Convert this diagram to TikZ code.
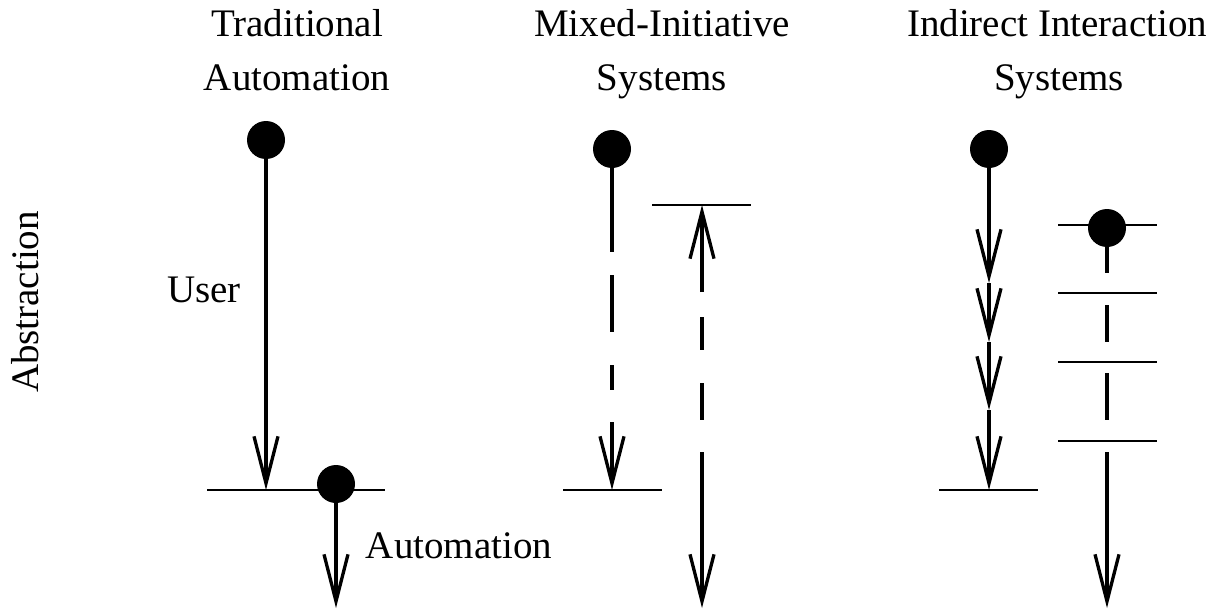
\documentclass[tikz,border=0pt]{standalone}
\usepackage{fontspec}
\setmainfont{Liberation Serif}
\usetikzlibrary{arrows.meta}
\begin{document}
\begin{tikzpicture}[x=1pt,y=-1pt,
  lbl/.style={font=\fontsize{39}{47}\selectfont, anchor=base, inner sep=0pt},
  dot/.style={circle, fill=black, minimum size=38pt, inner sep=0pt},
  vline/.style={line width=3.3pt},
  hline/.style={line width=2pt},
  arr/.style={vline, -{Straight Barb[length=47pt,width=24pt,line width=3.3pt]}}]
\useasboundingbox (0,0) rectangle (1220,610);
% titles
\node[lbl] (t1a) at (297,37) {Traditional};
\node[lbl] (t1b) at (297,90) {Automation};
\node[lbl] (t2a) at (662,37) {Mixed-Initiative};
\node[lbl] (t2b) at (662,90) {Systems};
\node[lbl] (t3a) at (1057,37) {Indirect Interaction};
\node[lbl] (t3b) at (1059,90) {Systems};
\node[lbl, rotate=90] (abs) at (38,302) {Abstraction};
\node[lbl] (user) at (204,302) {User};
\node[lbl] (auto) at (459,558) {Automation};
% panel 1
\node[dot] (d1) at (266,140) {};
\coordinate (h1a) at (207,490);
\coordinate (h1b) at (385,490);
\coordinate (e1) at (266,490);
\node[dot] (d2) at (336,484) {};
\coordinate (e2) at (336,608);
\draw[hline] (h1a) -- (h1b);
\draw[arr] (d1.center) -- (e1);
\draw[arr] (d2.center) -- (e2);
% panel 2
\node[dot] (d3) at (612,149) {};
\coordinate (h2a) at (563,490);
\coordinate (h2b) at (662,490);
\coordinate (h3a) at (652,205);
\coordinate (h3b) at (751,205);
\draw[hline] (h2a) -- (h2b);
\draw[hline] (h3a) -- (h3b);
\coordinate (p1) at (612,252);
\coordinate (p2) at (612,275);
\coordinate (p3) at (612,332);
\coordinate (p4) at (612,365);
\coordinate (p5) at (612,390);
\coordinate (p6) at (612,422);
\coordinate (p7) at (612,490);
\draw[vline] (d3.center) -- (p1);
\draw[vline] (p2) -- (p3);
\draw[vline] (p4) -- (p5);
\draw[arr] (p6) -- (p7);
\coordinate (q0) at (702,205);
\coordinate (q1) at (702,292);
\coordinate (q2) at (702,317);
\coordinate (q3) at (702,350);
\coordinate (q4) at (702,383);
\coordinate (q5) at (702,420);
\coordinate (q6) at (702,452);
\coordinate (q7) at (702,608);
\draw[arr] (q1) -- (q0);
\draw[vline] (q2) -- (q3);
\draw[vline] (q4) -- (q5);
\draw[arr] (q6) -- (q7);
% panel 3
\node[dot] (d4) at (989,149) {};
\coordinate (h4a) at (939,490);
\coordinate (h4b) at (1038,490);
\draw[hline] (h4a) -- (h4b);
\coordinate (r1) at (989,283);
\coordinate (r2) at (989,342);
\coordinate (r3) at (989,410);
\coordinate (r4) at (989,490);
\draw[arr] (d4.center) -- (r1);
\draw[arr] (r1) -- (r2);
\draw[arr] (r2) -- (r3);
\draw[arr] (r3) -- (r4);
\foreach \yy [count=\i] in {225,293,362,441} {
  \coordinate (k\i a) at (1058,\yy);
  \coordinate (k\i b) at (1157,\yy);
  \draw[hline] (k\i a) -- (k\i b);
}
\node[dot] (d5) at (1107,228) {};
\coordinate (s1) at (1107,273);
\coordinate (s2) at (1107,305);
\coordinate (s3) at (1107,342);
\coordinate (s4) at (1107,373);
\coordinate (s5) at (1107,420);
\coordinate (s6) at (1107,452);
\coordinate (s7) at (1107,608);
\draw[vline] (d5.center) -- (s1);
\draw[vline] (s2) -- (s3);
\draw[vline] (s4) -- (s5);
\draw[arr] (s6) -- (s7);
\end{tikzpicture}
\end{document}
